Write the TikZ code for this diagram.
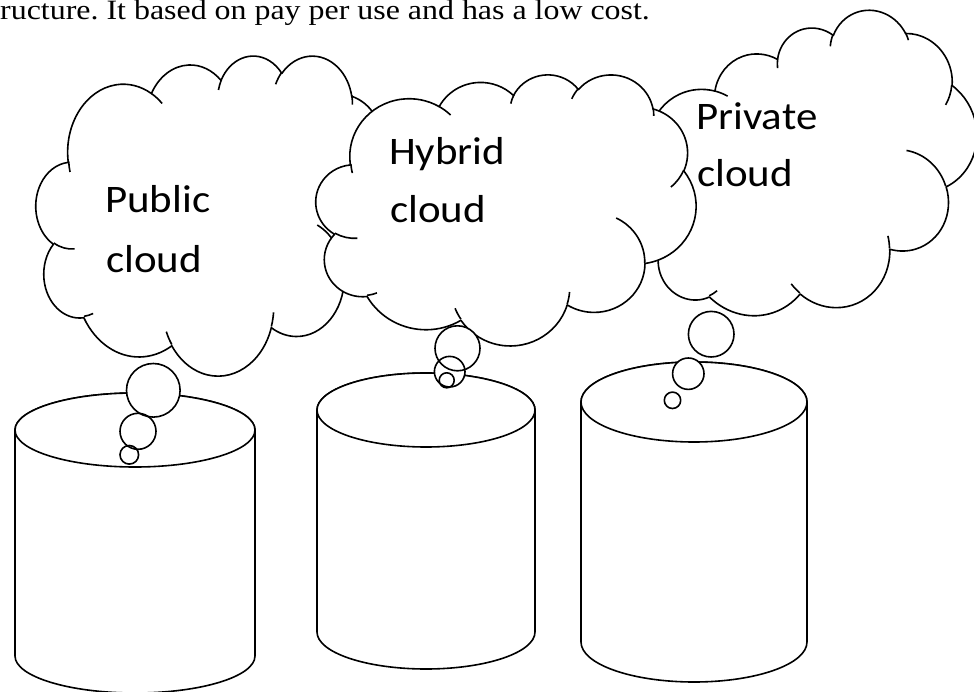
\documentclass[tikz,border=0pt]{standalone}
\usepackage{fontspec}
\setmainfont{Liberation Serif}
\newfontfamily\cloudfont[FakeStretch=1.1]{Carlito}
\newfontfamily\bodyfont[FakeStretch=1.14]{Liberation Serif}
\frenchspacing

\tikzset{
  outline/.style={line width=1.6pt, black, line join=round},
  cloudlabel/.style={inner sep=0pt, anchor=base west,
    font=\cloudfont\fontsize{39}{47}\selectfont},
  % OOXML-style arcTo: radii, start angle and sweep given as visual angles
  oo/.style n args={4}{x radius=#1, y radius=#2,
    start angle={atan2(#1*sin(#3),#2*cos(#3))},
    delta angle={mod(atan2(#1*sin(#3+#4),#2*cos(#3+#4))-atan2(#1*sin(#3),#2*cos(#3))+720,360)}},
}

% cloud outline in a 4320 x 4320 box, y pointing down
\newcommand\cloudshape{%
  \draw[outline, fill=white] (390,1437)
    arc[oo={675.3}{919.0}{-190.4875}{123.7805}]
    arc[oo={533.3}{726.7}{-144.1024}{89.9452}]
    arc[oo={436.5}{594.5}{-145.8079}{99.7230}]
    arc[oo={485.7}{659.5}{-130.9861}{117.2417}]
    arc[oo={533.3}{727.3}{-78.7089}{109.0269}]
    arc[oo={677.5}{922.0}{-46.2673}{130.2690}]
    arc[oo={578.5}{786.7}{0.6250}{114.0333}]
    arc[oo={675.2}{921.5}{22.4516}{115.1726}]
    arc[oo={772.0}{1054.3}{66.2426}{75.7110}]
    arc[oo={436.0}{591.8}{-274.9421}{146.7356}]
    arc[oo={434.5}{594.5}{-246.8285}{152.5189}]
    -- cycle;
  \draw[outline]
    (469.3,2617.7) arc[oo={434.5}{594.5}{86.7420}{26.4295}]
    (692.8,3489.9) arc[oo={436.0}{591.8}{73.6105}{11.4475}]
    (1647.8,3909.0) arc[oo={675.2}{921.5}{137.6242}{14.0811}]
    (2882.7,3475.1) arc[oo={675.2}{921.5}{6.4533}{15.9984}]
    (3412.9,2295.4) arc[oo={578.5}{786.7}{-70.2924}{70.9174}]
    (4179.8,1535.4) arc[oo={533.3}{727.3}{30.3180}{27.7515}]
    (3832.4,542.6) arc[oo={485.7}{659.5}{-13.7443}{14.8589}]
    (2907.8,395.2) arc[oo={485.7}{659.5}{-149.1815}{18.1954}]
    (2214.1,472.0) arc[oo={436.5}{594.5}{-163.4943}{17.6864}]
    (1400.0,519.2) arc[oo={675.3}{919.0}{-66.7070}{12.3194}]
    (412.7,1578.9) arc[oo={675.3}{919.0}{162.0479}{11.8546}];
}

% centre x, centre y, width, height, rotation
\newcommand\placecloud[5]{%
  \begin{scope}[shift={(#1,#2)}, rotate=#5, xscale=#3/4320, yscale=#4/4320,
                shift={(-2160,-2160)}]
    \cloudshape
  \end{scope}}

% storage drum: centre x, x radius, top centre y, bottom centre y, y radius
\newcommand\drum[5]{%
  \draw[outline, fill=white] (#1-#2,#3) -- (#1-#2,#4)
    arc[start angle=180, end angle=0, x radius=#2, y radius=#5]
    -- (#1+#2,#3)
    arc[start angle=0, end angle=-180, x radius=#2, y radius=#5] -- cycle;
  \draw[outline, fill=white] (#1,#3) ellipse[x radius=#2, y radius=#5];
}

\begin{document}
\begin{tikzpicture}[x=1pt, y=-1pt]
  \useasboundingbox (0,0) rectangle (974,692);
  \fill[white] (0,0) rectangle (974,692);

  % running text above the figure
  \node[anchor=base west, inner sep=0pt,
        font=\bodyfont\fontsize{28}{33}\selectfont] (intro) at (0,20)
        {ructure. It based on pay per use and has a low cost.};

  % storage drums
  \drum{135}{120}{430}{656}{37}
  \drum{426}{109}{410}{632}{37}
  \drum{694}{113}{402}{642}{40}

  % clouds (the hybrid one sits in front)
  \placecloud{214}{215}{356}{320}{0}
  \placecloud{806}{173}{354}{278}{17.5}
  \placecloud{506}{209.5}{380}{271}{0}

  % thought bubbles
  \foreach \bx/\by/\br in {153.3/390.3/26.8, 138/431.3/18, 129.3/454.8/9.3,
                           457.5/348.3/22.5, 449.7/371.7/15.3, 446.7/380.3/7.5,
                           711.2/334.2/22.8, 688.3/373.7/15.7, 672.5/400.3/8.2}
    \fill[white] (\bx,\by) circle[radius=\br pt];
  \foreach \bx/\by/\br in {153.3/390.3/26.8, 138/431.3/18, 129.3/454.8/9.3,
                           457.5/348.3/22.5, 449.7/371.7/15.3, 446.7/380.3/7.5,
                           711.2/334.2/22.8, 688.3/373.7/15.7, 672.5/400.3/8.2}
    \draw[outline] (\bx,\by) circle[radius=\br pt];

  % labels
  \node[cloudlabel] (pubA) at (105,213) {Public};
  \node[cloudlabel] (pubB) at (106,273) {cloud};
  \node[cloudlabel] (hybA) at (389,165) {Hybrid};
  \node[cloudlabel] (hybB) at (390,223) {cloud};
  \node[cloudlabel] (priA) at (696,130) {Private};
  \node[cloudlabel] (priB) at (697,187) {cloud};
\end{tikzpicture}
\end{document}
